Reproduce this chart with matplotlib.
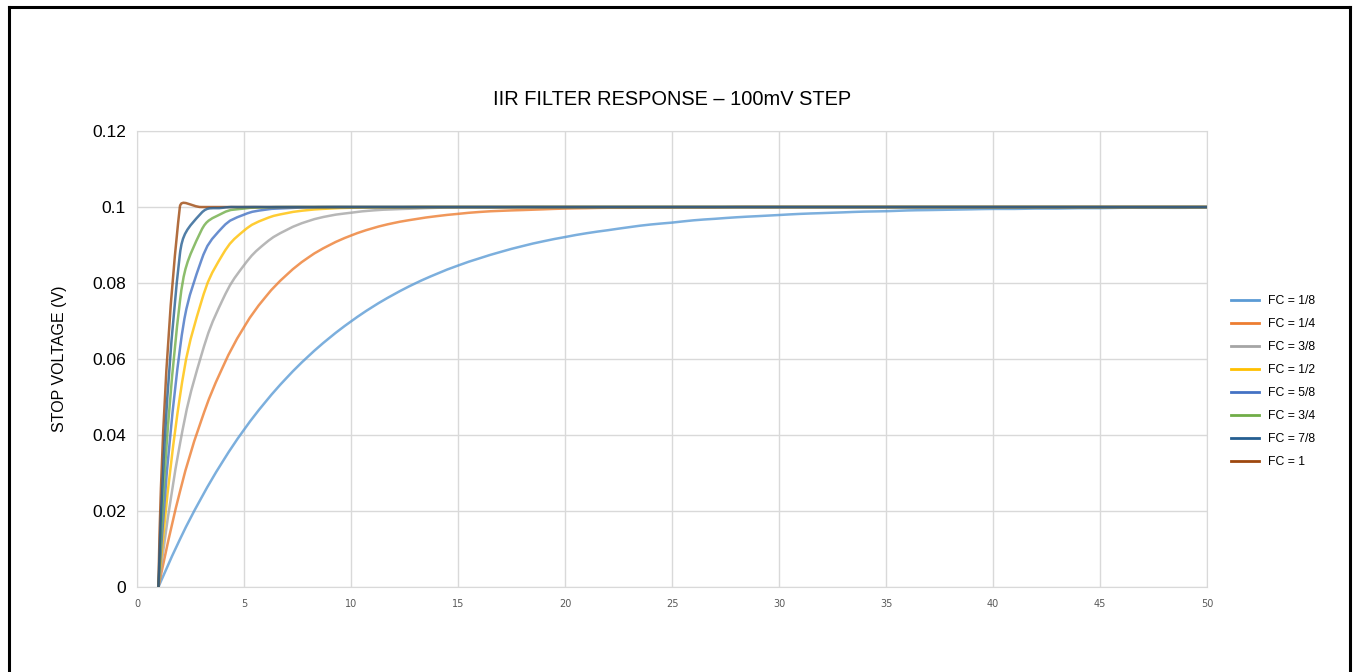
import matplotlib
matplotlib.use('Agg')
import matplotlib.pyplot as plt
import numpy as np
from matplotlib.lines import Line2D
from matplotlib.path import Path
from matplotlib.patches import PathPatch

# sample index (the steps start at 1)
x = list(range(1, 51))

fc_1_8 = [0, .0125, .0234, .0330, .0414, .0487, .0551, .0607, .0656, .0699,
          .0737, .0770, .0799, .0824, .0846, .0865, .0882, .0897, .0910, .0921,
          .0931, .0939, .0947, .0954, .0959, .0965, .0969, .0973, .0976, .0979,
          .0982, .0984, .0986, .0988, .0989, .0991, .0992, .0993, .0994, .0995,
          .0995, .0996, .0996, .0997, .0997, .0998, .0998, .0998, .0998, .0999]
fc_1_4 = [0, .0250, .0438, .0578, .0684, .0763, .0822, .0867, .0900, .0925,
          .0944, .0958, .0968, .0976, .0982, .0987, .0990, .0992, .0994, .0996,
          .0997, .0998, .0998, .0999, .0999, .0999, .0999, .1, .1, .1,
          .1, .1, .1, .1, .1, .1, .1, .1, .1, .1,
          .1, .1, .1, .1, .1, .1, .1, .1, .1, .1]
fc_3_8 = [0, .0375, .0609, .0756, .0847, .0905, .0940, .0963, .0977, .0985,
          .0991, .0994, .0996, .0998, .0999, .0999, .0999, .1, .1, .1,
          .1, .1, .1, .1, .1, .1, .1, .1, .1, .1,
          .1, .1, .1, .1, .1, .1, .1, .1, .1, .1,
          .1, .1, .1, .1, .1, .1, .1, .1, .1, .1]
fc_1_2 = [0, .0500, .0750, .0875, .0938, .0969, .0984, .0992, .0996, .0998,
          .0999, .0999, .1, .1, .1, .1, .1, .1, .1, .1,
          .1, .1, .1, .1, .1, .1, .1, .1, .1, .1,
          .1, .1, .1, .1, .1, .1, .1, .1, .1, .1,
          .1, .1, .1, .1, .1, .1, .1, .1, .1, .1]
fc_5_8 = [0, .0625, .0859, .0947, .0980, .0993, .0997, .0999, .1, .1,
          .1, .1, .1, .1, .1, .1, .1, .1, .1, .1,
          .1, .1, .1, .1, .1, .1, .1, .1, .1, .1,
          .1, .1, .1, .1, .1, .1, .1, .1, .1, .1,
          .1, .1, .1, .1, .1, .1, .1, .1, .1, .1]
fc_3_4 = [0, .0750, .0938, .0984, .0996, .0999, .1, .1, .1, .1,
          .1, .1, .1, .1, .1, .1, .1, .1, .1, .1,
          .1, .1, .1, .1, .1, .1, .1, .1, .1, .1,
          .1, .1, .1, .1, .1, .1, .1, .1, .1, .1,
          .1, .1, .1, .1, .1, .1, .1, .1, .1, .1]
fc_7_8 = [0, .0875, .0984, .0998, .1, .1, .1, .1, .1, .1,
          .1, .1, .1, .1, .1, .1, .1, .1, .1, .1,
          .1, .1, .1, .1, .1, .1, .1, .1, .1, .1,
          .1, .1, .1, .1, .1, .1, .1, .1, .1, .1,
          .1, .1, .1, .1, .1, .1, .1, .1, .1, .1]
fc_1 = [0, .1, .1, .1, .1, .1, .1, .1, .1, .1,
        .1, .1, .1, .1, .1, .1, .1, .1, .1, .1,
        .1, .1, .1, .1, .1, .1, .1, .1, .1, .1,
        .1, .1, .1, .1, .1, .1, .1, .1, .1, .1,
        .1, .1, .1, .1, .1, .1, .1, .1, .1, .1]

series = [fc_1_8, fc_1_4, fc_3_8, fc_1_2, fc_5_8, fc_3_4, fc_7_8, fc_1]
labels = ['FC = 1/8', 'FC = 1/4', 'FC = 3/8', 'FC = 1/2',
          'FC = 5/8', 'FC = 3/4', 'FC = 7/8', 'FC = 1']
colors = ['#5B9BD5', '#ED7D31', '#A5A5A5', '#FFC000',
          '#4472C4', '#70AD47', '#255E91', '#9E480E']
# the dark blue 7/8 trace shows on top along the 0.1 plateau
zorders = [2, 2.1, 2.2, 2.3, 2.4, 2.5, 2.7, 2.6]

font = ['Liberation Sans', 'DejaVu Sans']


def smooth_path(ax, xs, ys, k=0.45):
    # Excel-style "smoothed line": cubic Bezier through the data points,
    # control points worked out in screen space
    pts = ax.transData.transform(np.column_stack([xs, ys]))
    n = len(pts)
    verts = [pts[0]]
    codes = [Path.MOVETO]
    tang = []
    for i in range(n):
        a = pts[max(i - 1, 0)]
        b = pts[min(i + 1, n - 1)]
        d = b - a
        L = np.hypot(*d)
        tang.append(d / L if L > 0 else np.zeros(2))
    for i in range(n - 1):
        p0, p1 = pts[i], pts[i + 1]
        seg = np.hypot(*(p1 - p0))
        c1 = p0 + tang[i] * seg * k if i > 0 else p0
        c2 = p1 - tang[i + 1] * seg * k if i + 1 < n - 1 else p1
        verts += [c1, c2, p1]
        codes += [Path.CURVE4] * 3
    verts = ax.transData.inverted().transform(np.array(verts))
    return Path(verts, codes)


fig = plt.figure(figsize=(13.53, 6.72), dpi=100)
ax = fig.add_axes([0.1013, 0.1265, 0.7908, 0.6785])

ax.set_xlim(0, 50)
ax.set_ylim(0, 0.12)

handles = []
for ys, lab, c, z in zip(series, labels, colors, zorders):
    p = PathPatch(smooth_path(ax, x, ys), facecolor='none', edgecolor=c,
                  lw=1.8, alpha=0.8, joinstyle='round', capstyle='round',
                  zorder=z)
    ax.add_patch(p)
    handles.append(Line2D([], [], color=c, lw=2, label=lab))

ax.set_xticks(range(0, 51, 5))
ax.set_yticks([0, 0.02, 0.04, 0.06, 0.08, 0.1, 0.12])
ax.set_yticklabels(['0', '0.02', '0.04', '0.06', '0.08', '0.1', '0.12'])
ax.grid(True, color='#d9d9d9', lw=1)
ax.set_axisbelow(True)
for s in ax.spines.values():
    s.set_color('#d9d9d9')
ax.tick_params(length=0)
ax.tick_params(axis='x', labelsize=7, labelcolor='#595959', pad=9)
ax.tick_params(axis='y', labelsize=12.5, pad=8)
for t in ax.get_yticklabels():
    t.set_family(font)

ax.set_ylabel('STOP VOLTAGE (V)', fontsize=11.5, family=font, labelpad=18)
ax.set_title('IIR FILTER RESPONSE \u2013 100mV STEP', fontsize=14.4,
             family=font, pad=19)

leg = ax.legend(handles=handles, loc='center left',
                bbox_to_anchor=(1.012, 0.45), frameon=False,
                prop={'family': font, 'size': 8.8}, handlelength=2.3,
                handletextpad=0.7, labelspacing=0.9)

# black frame round the chart (no bottom edge visible)
fig.add_artist(Line2D([0.0065, 0.0065], [0, 0.990], color='black', lw=2.2))
fig.add_artist(Line2D([0.0065, 0.998], [0.990, 0.990], color='black', lw=2.2))
fig.add_artist(Line2D([0.998, 0.998], [0, 0.990], color='black', lw=2.2))

fig.savefig('out.png', dpi=100)
